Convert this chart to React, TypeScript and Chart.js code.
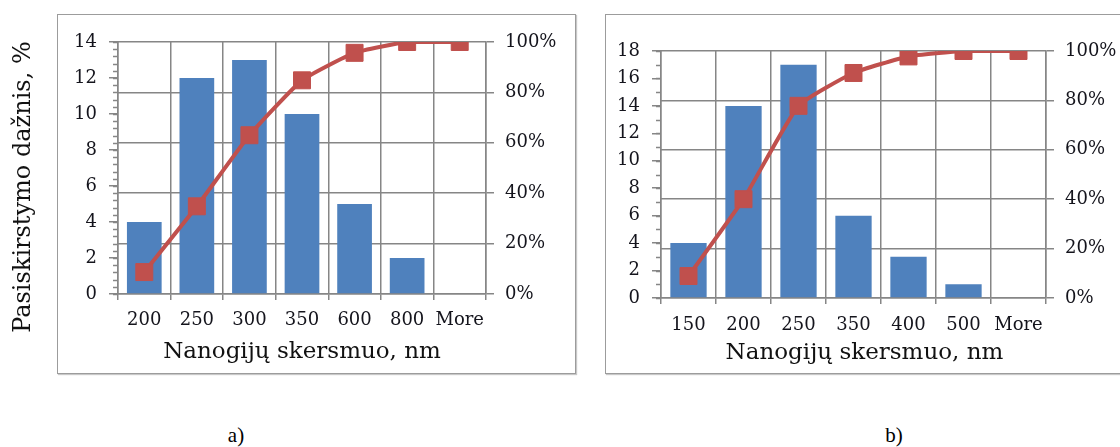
import React, { useEffect, useRef } from 'react';
import { Chart, registerables } from 'chart.js';

Chart.register(...registerables);

// ---- data ----
const catsA = ['200', '250', '300', '350', '600', '800', 'More'];
const freqA = [4, 12, 13, 10, 5, 2, 0];
const cumA = [8.7, 34.8, 63.0, 84.8, 95.7, 100, 100];

const catsB = ['150', '200', '250', '350', '400', '500', 'More'];
const freqB = [4, 14, 17, 6, 3, 1, 0];
const cumB = [8.9, 40.0, 77.8, 91.1, 97.8, 100, 100];

const yTitle = 'Pasiskirstymo dažnis, %';
const xTitle = 'Nanogijų skersmuo, nm';
const captionA = 'a)';
const captionB = 'b)';

// ---- styles ----
const FONT = 'DejaVu Serif';
const BAR = '#4F81BD';
const LINE = '#C0504D';
const GRID = '#868686';
const TEXT = '#14141c';

const minorTicks = {
  id: 'minorTicks',
  afterDraw(chart: any) {
    const o = chart.options.plugins.minorTicks;
    if (!o) return;
    const s = chart.scales.y;
    const ctx = chart.ctx;
    ctx.save();
    ctx.strokeStyle = GRID;
    ctx.lineWidth = 1.5;
    const n = Math.round((s.max - s.min) / o.step);
    for (let i = 0; i <= n; i++) {
      const y = Math.round(s.getPixelForValue(s.min + i * o.step)) + 0.5;
      ctx.beginPath();
      ctx.moveTo(s.right, y);
      ctx.lineTo(s.right - o.length, y);
      ctx.stroke();
    }
    ctx.restore();
  },
};

function makeConfig(p: any) {
  return {
    type: 'bar',
    data: {
      labels: p.cats,
      datasets: [
        {
          type: 'line',
          data: p.cum,
          yAxisID: 'y1',
          borderColor: LINE,
          backgroundColor: LINE,
          borderWidth: 4,
          pointStyle: 'rect',
          pointRadius: 12,
          pointBorderWidth: 1,
          pointBackgroundColor: LINE,
          pointBorderColor: LINE,
          tension: 0.15,
          order: 0,
        },
        {
          type: 'bar',
          data: p.freq,
          yAxisID: 'y',
          backgroundColor: BAR,
          borderWidth: 0,
          categoryPercentage: 0.66,
          barPercentage: 1,
          order: 1,
        },
      ],
    },
    options: {
      animation: false,
      responsive: false,
      devicePixelRatio: 1,
      layout: { padding: { top: p.top, left: 0, right: 0, bottom: 0 } },
      plugins: {
        legend: { display: false },
        tooltip: { enabled: false },
        minorTicks: { step: p.minor, length: 5 },
      },
      scales: {
        x: {
          offset: true,
          grid: { display: true, offset: true, color: GRID, lineWidth: 1.5, tickLength: 6, drawOnChartArea: true },
          border: { display: true, color: GRID, width: 1.5 },
          ticks: { color: TEXT, font: { family: FONT, size: 18 }, padding: p.xPad, maxRotation: 0, autoSkip: false },
          title: {
            display: true,
            text: p.xTitle,
            color: '#111',
            font: { family: FONT, size: 23 },
            padding: { top: 0, bottom: p.xTitlePad },
          },
          afterFit: (s: any) => { s.height = p.xH; },
        },
        y: {
          position: 'left',
          min: 0,
          max: p.yMax,
          ticks: { stepSize: 2, color: TEXT, font: { family: FONT, size: 18 }, padding: 12 },
          grid: { drawOnChartArea: false, drawTicks: true, tickLength: 9, color: GRID, lineWidth: 1.5 },
          border: { display: true, color: GRID, width: 1.5 },
          title: p.yTitle
            ? { display: true, text: p.yTitle, color: '#111', font: { family: FONT, size: 24 }, padding: { top: 9, bottom: 0 } }
            : { display: false },
          afterFit: (s: any) => { s.width = p.yW; },
        },
        y1: {
          position: 'right',
          min: 0,
          max: 100,
          ticks: { stepSize: 20, color: TEXT, font: { family: FONT, size: 18 }, padding: 11, callback: (v: any) => v + '%' },
          grid: { drawOnChartArea: true, tickLength: 8, color: GRID, lineWidth: 1.5 },
          border: { display: true, color: GRID, width: 1.5 },
          afterFit: (s: any) => { s.width = p.y1W; },
        },
      },
    },
    plugins: [minorTicks],
  } as any;
}

function ChartCanvas(props: { cfg: any; left: number; width: number; height: number }) {
  const ref = useRef<HTMLCanvasElement>(null);
  useEffect(() => {
    const chart = new Chart(ref.current as HTMLCanvasElement, props.cfg);
    return () => chart.destroy();
  }, []);
  return (
    <canvas
      ref={ref}
      width={props.width}
      height={props.height}
      style={{ position: 'absolute', left: props.left, top: 0, width: props.width, height: props.height }}
    />
  );
}

const boxStyle = (left: number, width: number): React.CSSProperties => ({
  position: 'absolute',
  left,
  top: 14,
  width,
  height: 360,
  border: '1.5px solid #9c9c9c',
  boxShadow: '1px 1px 1px #c8c8c8',
  boxSizing: 'border-box',
});

const captionStyle = (cx: number): React.CSSProperties => ({
  position: 'absolute',
  left: cx - 30,
  width: 60,
  top: 423,
  textAlign: 'center',
  fontFamily: 'Liberation Serif',
  fontSize: 21,
  lineHeight: '24px',
  color: '#000',
});

const NB = '\u00a0';

export default function App() {
  const cfgA = makeConfig({
    cats: catsA, freq: freqA, cum: cumA, yMax: 14, minor: 0.4,
    top: 42, xH: 86, yW: 118, y1W: 94, xPad: 10, xTitlePad: 14,
    xTitle, yTitle: yTitle + NB.repeat(5),
  });
  const cfgB = makeConfig({
    cats: catsB, freq: freqB, cum: cumB, yMax: 18, minor: 1,
    top: 51, xH: 82, yW: 101, y1W: 74, xPad: 11, xTitlePad: 13,
    xTitle: NB.repeat(3) + xTitle, yTitle: null,
  });
  return (
    <div style={{ position: 'absolute', left: 0, top: 0, width: 1120, height: 447, overflow: 'hidden', background: '#fff' }}>
      <div style={boxStyle(57, 519)} />
      <div style={boxStyle(605, 530)} />
      <ChartCanvas cfg={cfgA} left={0} width={580} height={380} />
      <ChartCanvas cfg={cfgB} left={560} width={560} height={380} />
      <div style={captionStyle(236)}>{captionA}</div>
      <div style={captionStyle(894)}>{captionB}</div>
    </div>
  );
}
